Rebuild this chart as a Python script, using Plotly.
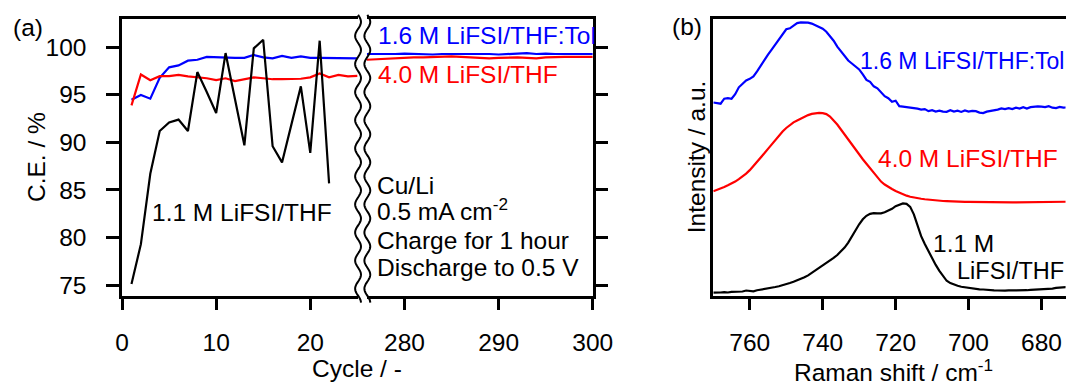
import numpy as np
import plotly.graph_objects as go

# ---------------- data: panel (a) ----------------
cycles_left = list(range(1, 26))
ce_blue_left = [94.5, 95.0, 94.6, 96.8, 97.9, 98.1, 98.6, 98.7, 99.0, 98.95,
                98.9, 98.9, 98.9, 99.2, 98.95, 98.85, 99.1, 98.9, 99.05, 98.9,
                98.9, 98.9, 98.9, 98.9, 98.85]
ce_red_left = [93.9, 97.15, 96.55, 96.97, 96.97, 97.1, 96.95, 96.85, 96.75, 96.55,
               96.75, 96.45, 96.65, 96.85, 96.75, 96.65, 96.65, 96.65, 96.7, 96.85,
               97.25, 96.85, 97.1, 96.95, 97.0]
cycles_black = list(range(1, 23))
ce_black = [75.1, 79.3, 86.7, 91.2, 92.1, 92.4, 91.2, 97.4, 95.3, 93.1,
            99.4, 94.5, 89.7, 99.9, 100.8, 89.6, 87.9, 91.9, 95.9, 88.9,
            100.7, 85.7]
cycles_right = list(range(276, 301))
ce_blue_right = [99.3, 99.3, 99.25, 99.3, 99.35, 99.3, 99.3, 99.25, 99.3, 99.3,
                 99.35, 99.3, 99.3, 99.3, 99.25, 99.3, 99.35, 99.4, 99.3, 99.35,
                 99.3, 99.3, 99.35, 99.3, 99.3]
ce_red_right = [98.7, 98.75, 98.85, 98.9, 98.95, 98.95, 98.95, 99.0, 99.05, 99.05,
                99.0, 98.95, 98.9, 98.85, 98.9, 98.95, 98.95, 98.9, 98.85, 98.95,
                99.0, 99.0, 99.0, 99.0, 99.0]
ce_ticks = [75, 80, 85, 90, 95, 100]
cycle_ticks_left = [0, 10, 20]
cycle_ticks_right = [280, 290, 300]

# ---------------- data: panel (b) ----------------
raman_shift = list(range(770, 672, -1))
int_blue = [196.7, 196, 195.5, 200.5, 201, 200.5, 205, 212, 216, 219,
            220.5, 223, 228, 234, 240, 245, 250, 255, 260, 265,
            270.5, 271.5, 274.5, 276.7, 277.5, 277.7, 277.2, 276.2, 274.7, 273,
            271, 268, 264, 259, 253, 248, 243, 239, 236, 233,
            230, 225, 219.5, 217.5, 213, 211, 207, 203, 201, 197.5,
            198.5, 193, 192.5, 192, 192, 191.7, 190.5, 189.5, 190, 188,
            189, 187.5, 188.5, 187.5, 187.3, 189, 187.5, 188.5, 187.2, 188.7,
            187.5, 188.2, 188, 186.5, 186, 187.5, 188, 189, 189.5, 190.7,
            190, 191, 190, 191.5, 190.5, 192, 190.5, 192, 192.5, 192.7,
            192.5, 192, 193, 191.5, 191, 192.2, 191.5, 191.7]
int_red = [107.3, 108.5, 110, 111.5, 113.2, 115, 117, 119.5, 122, 125,
           128.5, 132.5, 136.5, 141, 145.5, 150, 154.5, 159, 163.5, 167.5,
           171, 174, 176.7, 178.5, 180.5, 182.5, 184, 185.2, 186, 186.2,
           186, 185, 182.5, 179, 174.5, 169.5, 164.5, 159, 153.3, 148.5,
           144, 139.5, 135, 130.5, 126, 120.5, 117, 114, 111.5, 109.5,
           107.5, 105.7, 104, 102.8, 101.7, 100.8, 100.2, 99.7, 99.2, 98.7,
           98.2, 97.9, 97.6, 97.4, 97.3, 97, 96.8, 96.7, 96.6, 96.5,
           96.5, 96.4, 96.3, 96.2, 96.1, 96, 96, 96, 96, 96,
           96, 96, 96, 96, 96, 96, 96, 96, 96.1, 96.1,
           96.2, 96.3, 96.4, 96.5, 96.6, 96.6, 96.7, 96.7]
int_black = [5, 4.8, 5.2, 5.5, 5.2, 5.8, 6, 6.5, 6.2, 7.2,
             6.5, 6.4, 7.5, 8, 8.7, 9.3, 10, 10.7, 11.5, 12.4,
             13.5, 14.7, 16, 17.3, 18.7, 20.5, 22.5, 25, 27.7, 30.3,
             32.5, 34.5, 37, 40, 43, 46.5, 50.5, 55.5, 62, 68.5,
             74, 79, 82.5, 84.5, 85.2, 85, 85, 86, 87.5, 89.5,
             92.2, 94, 95, 94.5, 91.5, 84, 72, 62, 54, 46.5,
             39.5, 33, 27, 21.5, 17, 14.7, 13, 12, 11, 10.4,
             9.8, 9.2, 8.8, 8.4, 8.2, 7.7, 7.5, 7.3, 7.2, 7.5,
             7.1, 7.3, 7.2, 7.4, 7.3, 7.6, 7.5, 7.8, 8, 7.9,
             8.2, 8.4, 8.8, 9.2, 9.8, 10.2, 10.5, 10.7]
raman_ticks = [760, 740, 720, 700, 680]

# ---------------- layout helpers ----------------
W, H = 1087, 385
FONT = "Liberation Sans, Arial, sans-serif"
FS = 24.5
BLUE, RED, BLACK = "#0000ff", "#ff0000", "#000000"


def px(x):
    return x / W


def py(y):
    return (H - y) / H


fig = go.Figure()
LW = 2.2
fig.add_trace(go.Scatter(x=cycles_left, y=ce_blue_left, mode="lines",
                         line=dict(color=BLUE, width=LW), xaxis="x", yaxis="y"))
fig.add_trace(go.Scatter(x=cycles_left, y=ce_red_left, mode="lines",
                         line=dict(color=RED, width=LW), xaxis="x", yaxis="y"))
fig.add_trace(go.Scatter(x=cycles_black, y=ce_black, mode="lines",
                         line=dict(color=BLACK, width=LW), xaxis="x", yaxis="y"))
fig.add_trace(go.Scatter(x=cycles_right, y=ce_blue_right, mode="lines",
                         line=dict(color=BLUE, width=LW), xaxis="x2", yaxis="y2"))
fig.add_trace(go.Scatter(x=cycles_right, y=ce_red_right, mode="lines",
                         line=dict(color=RED, width=LW), xaxis="x2", yaxis="y2"))
fig.add_trace(go.Scatter(x=raman_shift, y=int_blue, mode="lines",
                         line=dict(color=BLUE, width=LW), xaxis="x3", yaxis="y3"))
fig.add_trace(go.Scatter(x=raman_shift, y=int_red, mode="lines",
                         line=dict(color=RED, width=LW), xaxis="x3", yaxis="y3"))
fig.add_trace(go.Scatter(x=raman_shift, y=int_black, mode="lines",
                         line=dict(color=BLACK, width=LW), xaxis="x3", yaxis="y3"))

ydom = [py(298), py(19)]
axis_common = dict(showgrid=False, zeroline=False, showline=True, linecolor=BLACK,
                   linewidth=2.5, tickcolor=BLACK, tickwidth=2.5,
                   tickfont=dict(family=FONT, size=FS, color=BLACK))

fig.update_layout(
    width=W, height=H, autosize=False, margin=dict(l=0, r=0, t=0, b=0),
    paper_bgcolor="white", plot_bgcolor="white", showlegend=False,
    font=dict(family=FONT, size=FS, color=BLACK),
    xaxis=dict(domain=[px(118), px(360)], range=[0, 25.08], anchor="y",
               tickvals=cycle_ticks_left, ticks="outside", ticklen=12, mirror=True,
               ticklabelstandoff=11, **axis_common),
    xaxis2=dict(domain=[px(369), px(600.7)], range=[276, 300], anchor="y2",
                tickvals=cycle_ticks_right, ticks="outside", ticklen=12, mirror=True,
                ticklabelstandoff=11, **axis_common),
    yaxis=dict(domain=ydom, range=[73.88, 103.0], anchor="x", tickvals=ce_ticks,
               ticks="outside", ticklen=13, ticklabelstandoff=15, **axis_common),
    yaxis2=dict(domain=ydom, range=[73.88, 103.0], anchor="x2", side="right",
                tickvals=ce_ticks, ticks="outside", ticklen=12,
                showticklabels=False, **axis_common),
    xaxis3=dict(domain=[px(724.3), px(1085.5)], range=[770, 673.4], anchor="y3",
                tickvals=raman_ticks, ticks="outside", ticklen=12, mirror=True,
                ticklabelstandoff=11, **axis_common),
    yaxis3=dict(domain=ydom, range=[2, 281], anchor="x3", ticks="",
                showticklabels=False, **axis_common),
)

# ---------------- axis break waves ----------------
ys = np.linspace(15, 305, 300)
for xc in (360, 369.5):
    xs = xc + 3 * np.sin(2 * np.pi * (ys - 15) / 28.3)
    path = "M " + " L ".join(f"{px(a):.5f},{py(b):.5f}" for a, b in zip(xs, ys))
    fig.add_shape(type="path", xref="paper", yref="paper", path=path,
                  line=dict(color=BLACK, width=2))


def ann(text, x, y, color=BLACK, xanchor="left", yanchor="middle", angle=0, size=FS):
    fig.add_annotation(text=text, x=px(x), y=py(y), xref="paper", yref="paper",
                       xanchor=xanchor, yanchor=yanchor, showarrow=False,
                       textangle=angle, font=dict(family=FONT, size=size, color=color))


ann("(a)", 22, 28, xanchor="center")
ann("(b)", 697, 27, xanchor="center")
ann("C.E. / %", 31, 158, xanchor="center", angle=-90)
ann("Cycle / -", 359, 371, xanchor="center")
ann("1.6 M LiFSI/THF:Tol", 378, 36, color=BLUE)
ann("4.0 M LiFSI/THF", 378, 75, color=RED)
ann("1.1 M LiFSI/THF", 147, 214)
ann("Cu/Li", 377, 187)
ann("0.5 mA cm<sup>-2</sup>", 377, 211)
ann("Charge for 1 hour", 377, 242)
ann("Discharge to 0.5 V", 377, 270)
ann("Intensity / a.u.", 707, 158, xanchor="center", angle=-90)
ann("Raman shift / cm<sup>-1</sup>", 909, 373, xanchor="center")
ann("1.6 M LiFSI/THF:Tol", 1086, 61, color=BLUE, xanchor="right", size=23)
ann("4.0 M LiFSI/THF", 891, 160, color=RED)
ann("1.1 M", 948, 245)
ann("LiFSI/THF", 1086, 273, xanchor="right", size=23.5)

fig.write_html(
    "out.html",
    config={"displayModeBar": False, "responsive": False},
    post_script=(
        "document.documentElement.style.margin='0';"
        "document.body.style.margin='0';"
        "document.body.style.padding='0';"
        "document.documentElement.style.overflow='hidden';"
        "document.body.style.overflow='hidden';"
    ),
)
